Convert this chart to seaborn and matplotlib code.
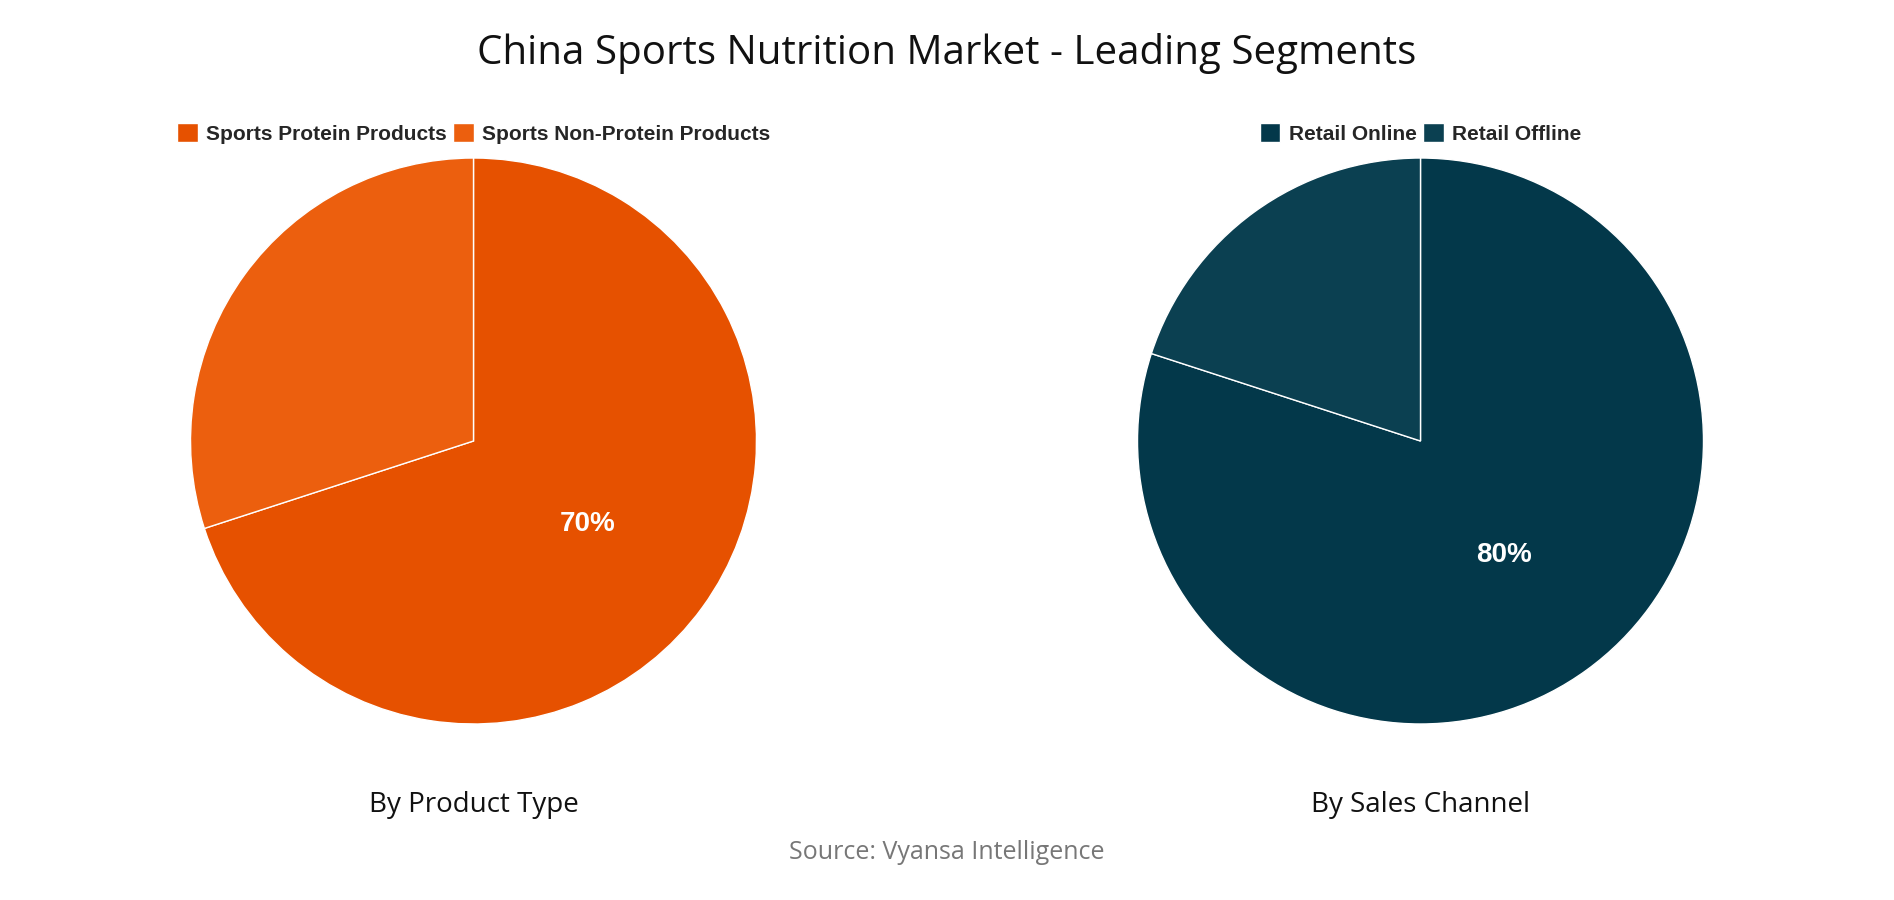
import matplotlib
matplotlib.use("Agg")
import matplotlib.pyplot as plt
import seaborn as sns

sns.set_theme(style="white")

product_labels = ["Sports Protein Products", "Sports Non-Protein Products"]
product_values = [70, 30]
product_colors = ["#E65100", "#EC5F0E"]

channel_labels = ["Retail Online", "Retail Offline"]
channel_values = [80, 20]
channel_colors = ["#03384A", "#0B4051"]

fig = plt.figure(figsize=(18.94, 9), dpi=100)

def draw_pie(rect, values, labels, colors, subtitle):
    ax = fig.add_axes(rect)
    wedges, _, autotexts = ax.pie(
        values, colors=colors, startangle=90, counterclock=False,
        autopct=lambda p: f"{p:.0f}%" if p > 50 else "",
        pctdistance=0.5, wedgeprops=dict(edgecolor="white", linewidth=1),
        textprops=dict(color="white", fontsize=20, fontweight="bold",
                       family="Liberation Sans"))
    ax.set_aspect("equal")
    ax.set_xlim(-1.005, 1.005)
    ax.set_ylim(-1.005, 1.005)
    ax.legend(wedges, labels, loc="lower center", bbox_to_anchor=(0.5, 0.99),
              ncol=2, frameon=False, handlelength=1.0, handleheight=1.0,
              handletextpad=0.4, columnspacing=0.3,
              prop=dict(family="Liberation Sans", weight="bold", size=15))
    ax.text(0.5, -0.14, subtitle, transform=ax.transAxes, ha="center", va="center",
            fontsize=20, family="Open Sans", color="#111111")
    return ax

h = 0.632
w = h * 9 / 18.94
draw_pie([0.25 - w / 2, 0.51 - h / 2, w, h], product_values, product_labels,
         product_colors, "By Product Type")
draw_pie([0.75 - w / 2, 0.51 - h / 2, w, h], channel_values, channel_labels,
         channel_colors, "By Sales Channel")

fig.text(0.5, 0.94, "China Sports Nutrition Market - Leading Segments",
         ha="center", va="center", fontsize=29, family="Open Sans", color="#111111")
fig.text(0.5, 0.053, "Source: Vyansa Intelligence", ha="center", va="center",
         fontsize=18, family="Open Sans", color="#777777")

fig.savefig("out.png", dpi=100)
